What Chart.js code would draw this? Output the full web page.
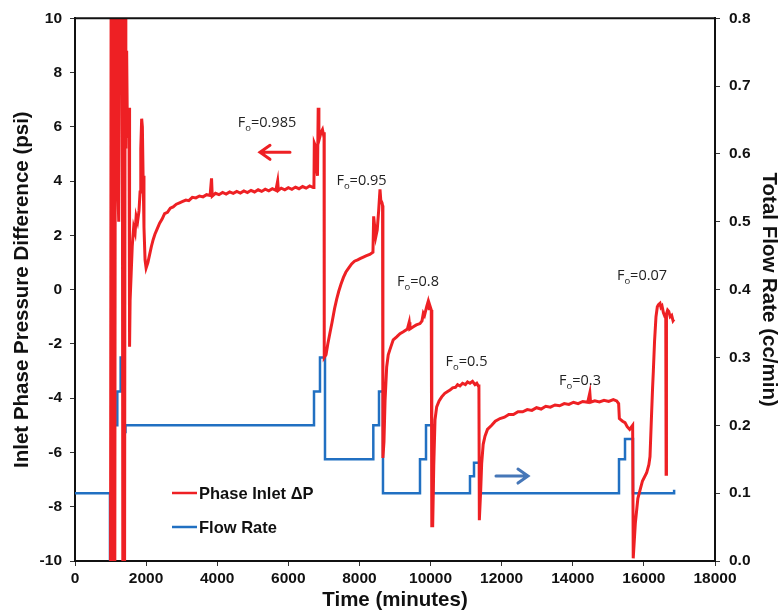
<!DOCTYPE html>
<html>
<head>
<meta charset="utf-8">
<script src="https://cdn.jsdelivr.net/npm/chart.js"></script>
<style>
  html, body { margin: 0; padding: 0; background: #fff; }
</style>
</head>
<body>
<canvas id="chart" width="779" height="616"></canvas>
<script>
// pressure trace, [time (min), dP (psi)], one array per flow-fraction run
const startup = [
  [1000, -10.5], [1015, 10.5], [1055, 10.5], [1070, -10.5], [1120, -10.5], [1135, 10.5], [1180, 10.5],
  [1200, 4.0], [1230, 2.5], [1260, 10.5], [1330, 10.5], [1345, -10.5], [1395, -10.5], [1410, 10.5],
  [1430, 5.2], [1453, 8.8], [1475, 5.6], [1500, 5.8], [1519, 6.7], [1535, -2.1], [1550, -0.4],
  [1580, 0.6], [1610, 1.6], [1650, 2.3], [1690, 2.1], [1720, 2.7], [1760, 2.5], [1800, 2.9],
  [1830, 3.6], [1850, 5.2], [1875, 6.3], [1895, 6.0], [1915, 4.2], [1940, 2.3], [1970, 1.1], [2000, 0.8]
];
const run0985 = [
  [2050, 1.0], [2100, 1.3], [2150, 1.6], [2200, 1.85], [2250, 2.05], [2300, 2.2], [2380, 2.45],
  [2450, 2.6], [2520, 2.8], [2600, 2.85], [2680, 3.0], [2760, 3.05], [2850, 3.15], [2940, 3.2],
  [3030, 3.25], [3120, 3.3], [3200, 3.28], [3300, 3.4], [3400, 3.38], [3500, 3.45], [3600, 3.42],
  [3700, 3.5], [3800, 3.47], [3840, 4.1], [3860, 3.45], [3950, 3.55], [4050, 3.5], [4150, 3.58],
  [4250, 3.52], [4350, 3.6], [4450, 3.55], [4550, 3.62], [4650, 3.56], [4750, 3.64], [4850, 3.58],
  [4950, 3.66], [5050, 3.6], [5150, 3.68], [5250, 3.62], [5350, 3.7], [5450, 3.64], [5550, 3.72],
  [5650, 3.66], [5700, 4.0], [5720, 3.66], [5800, 3.74], [5900, 3.68], [6000, 3.76], [6100, 3.7],
  [6200, 3.78], [6300, 3.72], [6400, 3.8], [6500, 3.74], [6600, 3.82], [6700, 3.76], [6720, 3.8],
  [6730, 5.4], [6760, 5.3], [6790, 4.5], [6820, 4.2], [6840, 6.7], [6860, 5.9], [6880, 5.6],
  [6920, 5.8], [6960, 5.9], [6990, 5.7], [7005, 5.8], [7010, -2.5]
];
const run095 = [
  [7060, -2.4], [7110, -2.0], [7170, -1.6], [7230, -1.2], [7300, -0.7], [7360, -0.35], [7420, -0.05],
  [7480, 0.2], [7550, 0.45], [7620, 0.65], [7700, 0.8], [7780, 0.95], [7860, 1.05], [7950, 1.1],
  [8030, 1.15], [8110, 1.2], [8200, 1.25], [8290, 1.3], [8380, 1.38], [8400, 2.7], [8430, 2.3],
  [8460, 1.95], [8500, 2.2], [8540, 2.9], [8578, 3.7], [8600, 3.3], [8634, 3.2], [8650, 3.1], [8660, -6.2]
];
const run08 = [
  [8690, -5.6], [8720, -4.1], [8766, -2.85], [8810, -2.4], [8859, -2.2], [8950, -1.85], [9047, -1.74],
  [9140, -1.62], [9234, -1.55], [9350, -1.45], [9400, -1.2], [9420, -1.45], [9516, -1.37], [9600, -1.3],
  [9703, -1.25], [9760, -1.15], [9797, -0.87], [9830, -0.95], [9891, -0.63], [9930, -0.45], [9960, -0.7],
  [9984, -0.6], [10020, -0.75], [10035, -8.7]
];
const run05 = [
  [10060, -8.7], [10090, -6.5], [10125, -4.8], [10172, -4.32], [10240, -4.1], [10313, -3.95], [10400, -3.82],
  [10480, -3.75], [10547, -3.7], [10620, -3.62], [10700, -3.6], [10760, -3.5], [10828, -3.55], [10900, -3.45],
  [10980, -3.5], [11040, -3.4], [11109, -3.45], [11180, -3.38], [11250, -3.5], [11300, -3.45], [11344, -3.55],
  [11360, -3.5], [11372, -8.5]
];
const run03 = [
  [11410, -7.4], [11438, -6.4], [11480, -5.7], [11531, -5.4], [11600, -5.15], [11719, -5.0], [11820, -4.85],
  [11953, -4.75], [12080, -4.7], [12200, -4.6], [12330, -4.6], [12460, -4.5], [12590, -4.5], [12720, -4.42],
  [12850, -4.45], [12980, -4.35], [13110, -4.4], [13240, -4.3], [13370, -4.33], [13500, -4.25], [13630, -4.28],
  [13760, -4.2], [13890, -4.23], [14020, -4.15], [14150, -4.2], [14280, -4.12], [14420, -4.15], [14480, -3.8],
  [14500, -4.15], [14620, -4.1], [14750, -4.14], [14880, -4.08], [15010, -4.12], [15140, -4.05], [15234, -4.1],
  [15290, -4.2], [15310, -4.75], [15400, -4.85], [15469, -4.9], [15530, -5.05], [15600, -5.15], [15684, -5.0],
  [15700, -9.9]
];
const run007 = [
  [15760, -8.6], [15830, -7.7], [15890, -7.4], [15960, -7.05], [16078, -6.75], [16140, -6.45], [16172, -6.15],
  [16210, -4.8], [16245, -3.6], [16266, -3.0], [16300, -1.9], [16340, -1.0], [16378, -0.63], [16410, -0.55],
  [16453, -0.5], [16480, -0.65], [16510, -0.6], [16550, -0.85], [16594, -1.0], [16615, -0.95], [16625, -6.8],
  [16635, -0.9], [16668, -0.75], [16700, -0.8], [16740, -1.0], [16781, -0.95], [16820, -1.15], [16847, -1.1]
];

// total flow rate, step values (cc/min) starting at each time
const flowTime = [0, 984, 1040, 1106, 1190, 1284, 1359, 1420, 6722, 6890, 7031, 8390, 8550, 8662,
  9703, 9872, 10069, 11109, 11222, 11390, 15300, 15469, 15694, 16830, 16850];
const flowRate = [0.1, 0, 0.3, 0.2, 0.25, 0.3, 0.19, 0.2, 0.25, 0.3, 0.15, 0.2, 0.25, 0.1,
  0.15, 0.2, 0.1, 0.125, 0.145, 0.1, 0.15, 0.18, 0.1, 0.1, 0.105];

// axis ranges [min, max, step]
const timeAxis = [0, 18000, 2000];
const dpAxis = [-10, 10, 2];
const flowAxis = [0, 0.8, 0.1];

// F_o labels: text, time, dP of baseline
const foText = ['0.985', '0.95', '0.8', '0.5', '0.3', '0.07'];
const foTime = [5400, 8058, 9647, 11011, 14203, 15947];
const foDp = [5.99, 3.85, 0.13, -2.82, -3.52, 0.35];

const RED = '#ee2024';
const BLUE = '#2170c2';
const INK = '#111';
const SANS = '"Liberation Sans", Arial, sans-serif';

const pressure = [...startup, ...run0985, ...run095, ...run08, ...run05, ...run03, ...run007];

function drawArrow(ctx, x1, y, x2, color) {
  const dir = Math.sign(x2 - x1);
  ctx.strokeStyle = color;
  ctx.lineWidth = 3;
  ctx.lineCap = 'round';
  ctx.beginPath();
  ctx.moveTo(x1, y); ctx.lineTo(x2, y);
  ctx.moveTo(x2 - dir * 10, y - 7); ctx.lineTo(x2, y); ctx.lineTo(x2 - dir * 10, y + 7);
  ctx.stroke();
}

function drawFo(ctx, cx, by, value) {
  const main = '14.5px "Open Sans", sans-serif';
  const sub = '9.5px "Open Sans", sans-serif';
  ctx.font = main;
  const wF = ctx.measureText('F').width;
  const wRest = ctx.measureText('=' + value).width;
  ctx.font = sub;
  const wo = ctx.measureText('o').width;
  let x = cx - (wF + wo + wRest) / 2;
  ctx.fillStyle = '#222';
  ctx.textAlign = 'left';
  ctx.textBaseline = 'alphabetic';
  ctx.font = main; ctx.fillText('F', x, by); x += wF;
  ctx.font = sub; ctx.fillText('o', x, by + 3.5); x += wo;
  ctx.font = main; ctx.fillText('=' + value, x, by);
}

const extras = {
  id: 'extras',
  afterDatasetsDraw(chart) {
    const { ctx, chartArea: a, scales } = chart;
    const x = scales.x, y = scales.y;
    ctx.save();
    // frame top
    ctx.strokeStyle = INK;
    ctx.lineWidth = 2;
    ctx.beginPath();
    ctx.moveTo(a.left - 1, a.top); ctx.lineTo(a.right + 1, a.top);
    ctx.stroke();

    foText.forEach((t, i) => drawFo(ctx, x.getPixelForValue(foTime[i]), y.getPixelForValue(foDp[i]), t));

    drawArrow(ctx, x.getPixelForValue(6047), y.getPixelForValue(5.06), x.getPixelForValue(5203), RED);
    drawArrow(ctx, x.getPixelForValue(11840), y.getPixelForValue(-6.87), x.getPixelForValue(12740), '#4677b8');

    // legend
    ctx.font = 'bold 16.5px ' + SANS;
    ctx.textAlign = 'left';
    ctx.textBaseline = 'middle';
    chart.data.datasets.forEach((ds, i) => {
      const ly = a.bottom - 68 + i * 34;
      ctx.strokeStyle = ds.borderColor;
      ctx.lineWidth = 2.5;
      ctx.lineCap = 'butt';
      ctx.beginPath();
      ctx.moveTo(a.left + 97, ly); ctx.lineTo(a.left + 122, ly);
      ctx.stroke();
      ctx.fillStyle = INK;
      ctx.fillText(ds.label, a.left + 124, ly + 1);
    });
    ctx.restore();
  }
};

const tickFont = { family: SANS, size: 15.5, weight: 'bold' };
const titleFont = { family: SANS, size: 20.5, weight: 'bold', lineHeight: 1 };
const tickGrid = { drawOnChartArea: false, tickLength: 5, color: '#333' };
const axisBorder = { color: INK, width: 2 };

new Chart(document.getElementById('chart'), {
  type: 'line',
  data: {
    datasets: [
      {
        label: 'Phase Inlet \u0394P',
        data: pressure.map(([t, p]) => ({ x: t, y: p })),
        borderColor: RED,
        borderWidth: 3,
        pointRadius: 0,
        yAxisID: 'y'
      },
      {
        label: 'Flow Rate',
        data: flowTime.map((t, i) => ({ x: t, y: flowRate[i] })),
        borderColor: BLUE,
        borderWidth: 2.5,
        pointRadius: 0,
        stepped: true,
        yAxisID: 'y1'
      }
    ]
  },
  options: {
    responsive: false,
    animation: false,
    layout: { padding: { top: 18, left: 0, right: 0, bottom: 0 } },
    plugins: { legend: { display: false }, tooltip: { enabled: false } },
    scales: {
      x: {
        type: 'linear',
        min: timeAxis[0], max: timeAxis[1],
        ticks: { stepSize: timeAxis[2], callback: v => v, font: tickFont, color: INK, padding: 3 },
        grid: tickGrid,
        border: axisBorder,
        title: { display: true, text: 'Time (minutes)', font: titleFont, color: INK, padding: { top: 0, bottom: 5 } },
        afterFit: s => { s.height = 55; }
      },
      y: {
        position: 'left',
        min: dpAxis[0], max: dpAxis[1],
        ticks: { stepSize: dpAxis[2], font: tickFont, color: INK, padding: 8 },
        grid: tickGrid,
        border: axisBorder,
        title: { display: true, text: 'Inlet Phase Pressure Difference (psi)', font: titleFont, color: INK, padding: { top: 12, bottom: 0 } },
        afterFit: s => { s.width = 75; }
      },
      y1: {
        position: 'right',
        min: flowAxis[0], max: flowAxis[1],
        ticks: { stepSize: flowAxis[2], callback: v => v.toFixed(1), font: tickFont, color: INK, padding: 9 },
        grid: tickGrid,
        border: axisBorder,
        title: { display: true, text: 'Total Flow Rate (cc/min)', font: titleFont, color: INK, padding: { top: 0, bottom: 0 } },
        afterFit: s => { s.width = 64; }
      }
    }
  },
  plugins: [extras]
});
</script>
</body>
</html>
